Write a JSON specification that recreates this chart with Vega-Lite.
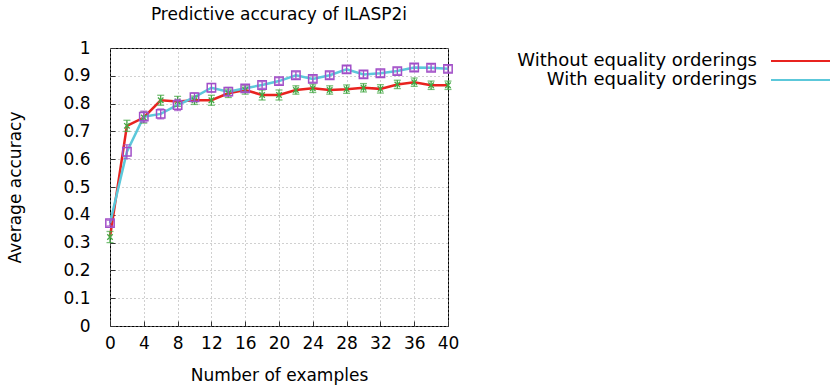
{
  "$schema": "https://vega.github.io/schema/vega-lite/v6.json",
  "autosize": "none",
  "width": 338,
  "height": 278,
  "padding": {"left": 110, "top": 48, "right": 382, "bottom": 63},
  "background": "white",
  "title": {"text": "Predictive accuracy of ILASP2i", "fontSize": 17, "font": "DejaVu Sans", "fontWeight": "normal", "anchor": "middle", "offset": 15, "color": "black"},
  "config": {
    "font": "DejaVu Sans",
    "view": {"stroke": "black", "strokeWidth": 1},
    "axis": {
      "domain": false,
      "grid": true,
      "gridColor": "#a0a0a0",
      "gridDash": [1, 3],
      "gridWidth": 1,
      "ticks": true,
      "tickColor": "#333",
      "tickSize": -5,
      "labelOverlap": false,
      "labelFont": "DejaVu Sans",
      "labelFontSize": 17,
      "labelColor": "black",
      "titleFont": "DejaVu Sans",
      "titleFontSize": 17,
      "titleFontWeight": "normal",
      "titleColor": "black"
    },
    "legend": {
      "padding": 0,
      "symbolType": "M-6,0L6,0",
      "symbolSize": 100,
      "symbolStrokeWidth": 2,
      "labelAlign": "right",
      "labelOffset": -53,
      "symbolOffset": 41,
      "labelLimit": 400,
      "labelFont": "DejaVu Sans",
      "labelFontSize": 18,
      "labelColor": "black",
      "rowPadding": 1
    }
  },
  "data": {
    "values": [
      {"series": "Without equality orderings", "n": 0, "acc": 0.32, "lo": 0.30, "hi": 0.34},
      {"series": "Without equality orderings", "n": 2, "acc": 0.72, "lo": 0.70, "hi": 0.74},
      {"series": "Without equality orderings", "n": 4, "acc": 0.75, "lo": 0.73, "hi": 0.77},
      {"series": "Without equality orderings", "n": 6, "acc": 0.812, "lo": 0.794, "hi": 0.83},
      {"series": "Without equality orderings", "n": 8, "acc": 0.808, "lo": 0.79, "hi": 0.826},
      {"series": "Without equality orderings", "n": 10, "acc": 0.812, "lo": 0.797, "hi": 0.827},
      {"series": "Without equality orderings", "n": 12, "acc": 0.812, "lo": 0.794, "hi": 0.83},
      {"series": "Without equality orderings", "n": 14, "acc": 0.837, "lo": 0.822, "hi": 0.852},
      {"series": "Without equality orderings", "n": 16, "acc": 0.849, "lo": 0.834, "hi": 0.864},
      {"series": "Without equality orderings", "n": 18, "acc": 0.831, "lo": 0.813, "hi": 0.849},
      {"series": "Without equality orderings", "n": 20, "acc": 0.831, "lo": 0.813, "hi": 0.849},
      {"series": "Without equality orderings", "n": 22, "acc": 0.849, "lo": 0.834, "hi": 0.864},
      {"series": "Without equality orderings", "n": 24, "acc": 0.855, "lo": 0.84, "hi": 0.87},
      {"series": "Without equality orderings", "n": 26, "acc": 0.849, "lo": 0.834, "hi": 0.864},
      {"series": "Without equality orderings", "n": 28, "acc": 0.852, "lo": 0.837, "hi": 0.867},
      {"series": "Without equality orderings", "n": 30, "acc": 0.857, "lo": 0.842, "hi": 0.872},
      {"series": "Without equality orderings", "n": 32, "acc": 0.853, "lo": 0.838, "hi": 0.868},
      {"series": "Without equality orderings", "n": 34, "acc": 0.869, "lo": 0.854, "hi": 0.884},
      {"series": "Without equality orderings", "n": 36, "acc": 0.877, "lo": 0.862, "hi": 0.892},
      {"series": "Without equality orderings", "n": 38, "acc": 0.866, "lo": 0.851, "hi": 0.881},
      {"series": "Without equality orderings", "n": 40, "acc": 0.866, "lo": 0.851, "hi": 0.881},
      {"series": "With equality orderings", "n": 0, "acc": 0.37, "lo": 0.36, "hi": 0.38},
      {"series": "With equality orderings", "n": 2, "acc": 0.627, "lo": 0.602, "hi": 0.652},
      {"series": "With equality orderings", "n": 4, "acc": 0.753, "lo": 0.733, "hi": 0.773},
      {"series": "With equality orderings", "n": 6, "acc": 0.763, "lo": 0.745, "hi": 0.781},
      {"series": "With equality orderings", "n": 8, "acc": 0.795, "lo": 0.775, "hi": 0.815},
      {"series": "With equality orderings", "n": 10, "acc": 0.823, "lo": 0.808, "hi": 0.838},
      {"series": "With equality orderings", "n": 12, "acc": 0.857, "lo": 0.842, "hi": 0.872},
      {"series": "With equality orderings", "n": 14, "acc": 0.843, "lo": 0.828, "hi": 0.858},
      {"series": "With equality orderings", "n": 16, "acc": 0.855, "lo": 0.843, "hi": 0.867},
      {"series": "With equality orderings", "n": 18, "acc": 0.867, "lo": 0.855, "hi": 0.879},
      {"series": "With equality orderings", "n": 20, "acc": 0.881, "lo": 0.869, "hi": 0.893},
      {"series": "With equality orderings", "n": 22, "acc": 0.902, "lo": 0.89, "hi": 0.914},
      {"series": "With equality orderings", "n": 24, "acc": 0.889, "lo": 0.877, "hi": 0.901},
      {"series": "With equality orderings", "n": 26, "acc": 0.902, "lo": 0.89, "hi": 0.914},
      {"series": "With equality orderings", "n": 28, "acc": 0.923, "lo": 0.911, "hi": 0.935},
      {"series": "With equality orderings", "n": 30, "acc": 0.905, "lo": 0.893, "hi": 0.917},
      {"series": "With equality orderings", "n": 32, "acc": 0.909, "lo": 0.897, "hi": 0.921},
      {"series": "With equality orderings", "n": 34, "acc": 0.917, "lo": 0.905, "hi": 0.929},
      {"series": "With equality orderings", "n": 36, "acc": 0.93, "lo": 0.918, "hi": 0.942},
      {"series": "With equality orderings", "n": 38, "acc": 0.929, "lo": 0.917, "hi": 0.941},
      {"series": "With equality orderings", "n": 40, "acc": 0.925, "lo": 0.913, "hi": 0.937}
    ]
  },
  "encoding": {
    "x": {
      "field": "n", "type": "quantitative",
      "scale": {"domain": [0, 40], "nice": false},
      "axis": {"values": [0, 4, 8, 12, 16, 20, 24, 28, 32, 36, 40], "title": "Number of examples", "labelPadding": 14, "titlePadding": 16, "labelFlush": false, "labelOverlap": false}
    }
  },
  "layer": [
    {
      "mark": {"type": "line", "strokeWidth": 2.5},
      "encoding": {
        "y": {"field": "acc", "type": "quantitative", "scale": {"domain": [0, 1], "nice": false}, "axis": {"values": [0, 0.1, 0.2, 0.3, 0.4, 0.5, 0.6, 0.7, 0.8, 0.9, 1], "format": ".1~f", "title": "Average accuracy", "labelPadding": 25, "titlePadding": 38, "labelOverlap": false}},
        "color": {
          "field": "series", "type": "nominal",
          "scale": {"domain": ["Without equality orderings", "With equality orderings"], "range": ["#e8231f", "#5cc8da"]},
          "legend": {"title": null, "orient": "none", "legendX": 641, "legendY": 4}
        }
      }
    },
    {
      "transform": [{"filter": "datum.series === 'Without equality orderings'"}],
      "mark": {"type": "rule", "color": "#43a843", "strokeWidth": 1.3},
      "encoding": {"y": {"field": "lo", "type": "quantitative", "scale": {"domain": [0, 1], "nice": false}, "axis": {"values": [0, 0.1, 0.2, 0.3, 0.4, 0.5, 0.6, 0.7, 0.8, 0.9, 1], "format": ".1~f", "title": "Average accuracy", "labelPadding": 25, "titlePadding": 38, "labelOverlap": false}}, "y2": {"field": "hi"}}
    },
    {
      "transform": [{"filter": "datum.series === 'Without equality orderings'"}],
      "mark": {"type": "point", "shape": "stroke", "size": 49, "color": "#43a843", "strokeWidth": 1.3},
      "encoding": {"y": {"field": "lo", "type": "quantitative", "scale": {"domain": [0, 1], "nice": false}, "axis": {"values": [0, 0.1, 0.2, 0.3, 0.4, 0.5, 0.6, 0.7, 0.8, 0.9, 1], "format": ".1~f", "title": "Average accuracy", "labelPadding": 25, "titlePadding": 38, "labelOverlap": false}}}
    },
    {
      "transform": [{"filter": "datum.series === 'Without equality orderings'"}],
      "mark": {"type": "point", "shape": "stroke", "size": 49, "color": "#43a843", "strokeWidth": 1.3},
      "encoding": {"y": {"field": "hi", "type": "quantitative", "scale": {"domain": [0, 1], "nice": false}, "axis": {"values": [0, 0.1, 0.2, 0.3, 0.4, 0.5, 0.6, 0.7, 0.8, 0.9, 1], "format": ".1~f", "title": "Average accuracy", "labelPadding": 25, "titlePadding": 38, "labelOverlap": false}}}
    },
    {
      "transform": [{"filter": "datum.series === 'Without equality orderings'"}],
      "mark": {"type": "point", "shape": "M-1,-1L1,1M1,-1L-1,1", "size": 30, "filled": false, "color": "#43a843", "strokeWidth": 1.3, "opacity": 1},
      "encoding": {"y": {"field": "acc", "type": "quantitative", "scale": {"domain": [0, 1], "nice": false}, "axis": {"values": [0, 0.1, 0.2, 0.3, 0.4, 0.5, 0.6, 0.7, 0.8, 0.9, 1], "format": ".1~f", "title": "Average accuracy", "labelPadding": 25, "titlePadding": 38, "labelOverlap": false}}}
    },
    {
      "transform": [{"filter": "datum.series === 'With equality orderings'"}],
      "mark": {"type": "rule", "color": "#a24fc8", "strokeWidth": 1.3},
      "encoding": {"y": {"field": "lo", "type": "quantitative", "scale": {"domain": [0, 1], "nice": false}, "axis": {"values": [0, 0.1, 0.2, 0.3, 0.4, 0.5, 0.6, 0.7, 0.8, 0.9, 1], "format": ".1~f", "title": "Average accuracy", "labelPadding": 25, "titlePadding": 38, "labelOverlap": false}}, "y2": {"field": "hi"}}
    },
    {
      "transform": [{"filter": "datum.series === 'With equality orderings'"}],
      "mark": {"type": "point", "shape": "stroke", "size": 49, "color": "#a24fc8", "strokeWidth": 1.3},
      "encoding": {"y": {"field": "lo", "type": "quantitative", "scale": {"domain": [0, 1], "nice": false}, "axis": {"values": [0, 0.1, 0.2, 0.3, 0.4, 0.5, 0.6, 0.7, 0.8, 0.9, 1], "format": ".1~f", "title": "Average accuracy", "labelPadding": 25, "titlePadding": 38, "labelOverlap": false}}}
    },
    {
      "transform": [{"filter": "datum.series === 'With equality orderings'"}],
      "mark": {"type": "point", "shape": "stroke", "size": 49, "color": "#a24fc8", "strokeWidth": 1.3},
      "encoding": {"y": {"field": "hi", "type": "quantitative", "scale": {"domain": [0, 1], "nice": false}, "axis": {"values": [0, 0.1, 0.2, 0.3, 0.4, 0.5, 0.6, 0.7, 0.8, 0.9, 1], "format": ".1~f", "title": "Average accuracy", "labelPadding": 25, "titlePadding": 38, "labelOverlap": false}}}
    },
    {
      "transform": [{"filter": "datum.series === 'With equality orderings'"}],
      "mark": {"type": "point", "shape": "square", "size": 70, "filled": false, "color": "#a24fc8", "strokeWidth": 1.5, "opacity": 1},
      "encoding": {"y": {"field": "acc", "type": "quantitative", "scale": {"domain": [0, 1], "nice": false}, "axis": {"values": [0, 0.1, 0.2, 0.3, 0.4, 0.5, 0.6, 0.7, 0.8, 0.9, 1], "format": ".1~f", "title": "Average accuracy", "labelPadding": 25, "titlePadding": 38, "labelOverlap": false}}}
    }
  ]
}
